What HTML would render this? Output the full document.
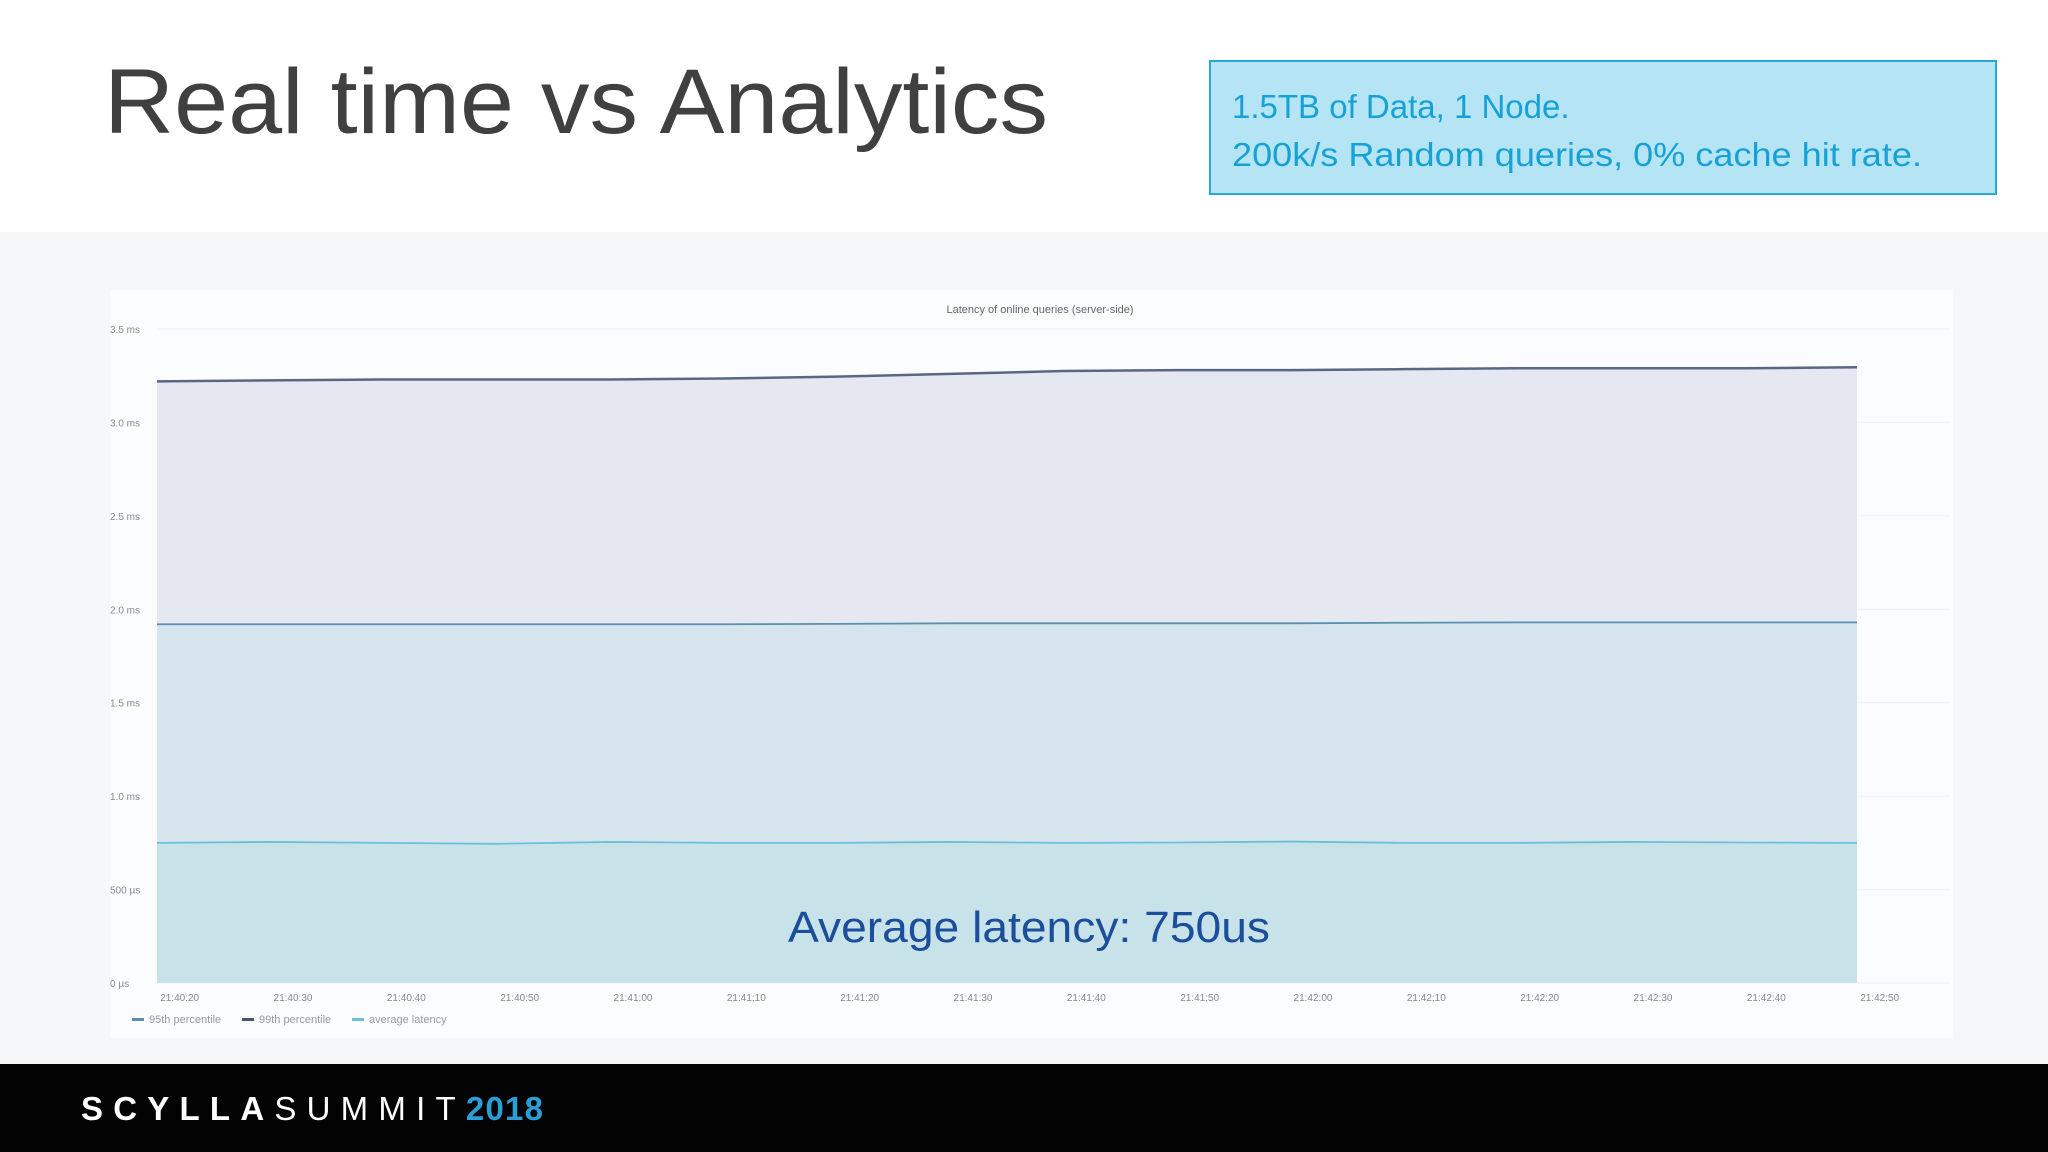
<!DOCTYPE html>
<html><head><meta charset="utf-8"><style>
html,body{margin:0;padding:0;background:#fff}
svg{display:block}
</style></head><body>
<svg id="s" width="2048" height="1152" viewBox="0 0 2048 1152" xmlns="http://www.w3.org/2000/svg" font-family="Liberation Sans, sans-serif">
<rect width="2048" height="1152" fill="#ffffff"/>
<text x="104" y="133" font-size="92" fill="#404040" textLength="944" lengthAdjust="spacingAndGlyphs">Real time vs Analytics</text>
<g>
<rect x="1210" y="61" width="786" height="133" fill="#b5e4f4" stroke="#2aa7d9" stroke-width="2"/>
<text x="1232" y="118" font-size="33" fill="#17a2d6">1.5TB of Data, 1 Node.</text>
<text x="1232" y="166" font-size="33" fill="#17a2d6" textLength="690" lengthAdjust="spacingAndGlyphs">200k/s Random queries, 0% cache hit rate.</text>
</g>
<rect x="0" y="232" width="2048" height="832" fill="#f6f7f8"/>
<rect x="110" y="290" width="1843" height="748" fill="#fbfcfd"/>
<text x="1040" y="313" font-size="11" fill="#666" text-anchor="middle">Latency of online queries (server-side)</text>
<g id="grid"></g>
<g id="areas"></g>
<g id="lines"></g>
<g id="yt"></g>
<g id="xt"></g>
<text x="1029" y="942" font-size="44" fill="#1b4f9c" text-anchor="middle" textLength="482" lengthAdjust="spacingAndGlyphs">Average latency: 750us</text>
<g>
<rect x="132" y="1018" width="12" height="3" fill="#5b8fae"/><text x="149" y="1023" font-size="11" fill="#999">95th percentile</text>
<rect x="242" y="1018" width="12" height="3" fill="#4a5670"/><text x="259" y="1023" font-size="11" fill="#999">99th percentile</text>
<rect x="352" y="1018" width="12" height="3" fill="#6cc0d8"/><text x="369" y="1023" font-size="11" fill="#999">average latency</text>
</g>
<rect x="0" y="1064" width="2048" height="88" fill="#030303"/>
<text x="81" y="1120" font-size="33" font-weight="bold" fill="#fff" letter-spacing="10" textLength="463" lengthAdjust="spacing">SCYLLA<tspan font-weight="normal">SUMMIT</tspan><tspan fill="#2a9fd6" letter-spacing="1">2018</tspan></text>
</svg>
<script>
const times=[0,10,20,30,40,50,60,70,80,90,100,110,120,130,140,150];
const p99=[3.22,3.225,3.23,3.23,3.23,3.235,3.245,3.26,3.275,3.28,3.28,3.285,3.29,3.29,3.29,3.295];
const p95=[1.92,1.92,1.92,1.92,1.92,1.92,1.922,1.925,1.925,1.925,1.925,1.928,1.93,1.93,1.93,1.93];
const avg=[0.75,0.755,0.75,0.745,0.755,0.75,0.75,0.755,0.75,0.752,0.757,0.75,0.75,0.755,0.752,0.75];
const yTicks=[0,0.5,1,1.5,2,2.5,3,3.5];
const yLabels=["0 µs","500 µs","1.0 ms","1.5 ms","2.0 ms","2.5 ms","3.0 ms","3.5 ms"];
const xTickTimes=[2,12,22,32,42,52,62,72,82,92,102,112,122,132,142,152];
const xLabels=["21:40:20","21:40:30","21:40:40","21:40:50","21:41:00","21:41:10","21:41:20","21:41:30","21:41:40","21:41:50","21:42:00","21:42:10","21:42:20","21:42:30","21:42:40","21:42:50"];
const NS="http://www.w3.org/2000/svg";
const X0=157,X1=1857,Y0=983,Y1=329;
const x=t=>X0+(t-times[0])/(times[times.length-1]-times[0])*(X1-X0);
const y=v=>Y0-v/3.5*(Y0-Y1);
function mk(tag,parent,attrs){const e=document.createElementNS(NS,tag);for(const k in attrs)e.setAttribute(k,attrs[k]);document.getElementById(parent).appendChild(e);return e;}
yTicks.forEach((v,i)=>{
 const l=mk('line','grid',{x1:X0,x2:1950,y1:y(v),y2:y(v),stroke:'#eef0f2','stroke-width':1});
 
 
 const t=mk('text','yt',{x:110,y:y(v)+4,'font-size':10,fill:'#888'});
 t.textContent=yLabels[i];
 
 
});
xTickTimes.forEach((tt,i)=>{
 const t=mk('text','xt',{x:x(tt),y:1001,'font-size':10,fill:'#888','text-anchor':'middle'});
 t.textContent=xLabels[i];
 
 
});
function pts(arr){return times.map((t,i)=>x(t)+','+y(arr[i])).join(' ');}
function area(arr,fill,name){
 const p=mk('polygon','areas',{points:x(times[0])+','+Y0+' '+pts(arr)+' '+x(times[times.length-1])+','+Y0,fill:fill});
 
 
}
area(p99,'#e5e8f1','area-99th');
area(p95,'#d5e4ed','area-95th');
area(avg,'#c8e2ea','area-average');
function line(arr,col,w,name){
 const p=mk('polyline','lines',{points:pts(arr),fill:'none',stroke:col,'stroke-width':w});
 
 
}
line(p99,'#5a6784',2.5,'line-99th');
line(p95,'#5b8fae',1.8,'line-95th');
line(avg,'#6cc0d8',1.8,'line-average');
</script>
</body></html>
